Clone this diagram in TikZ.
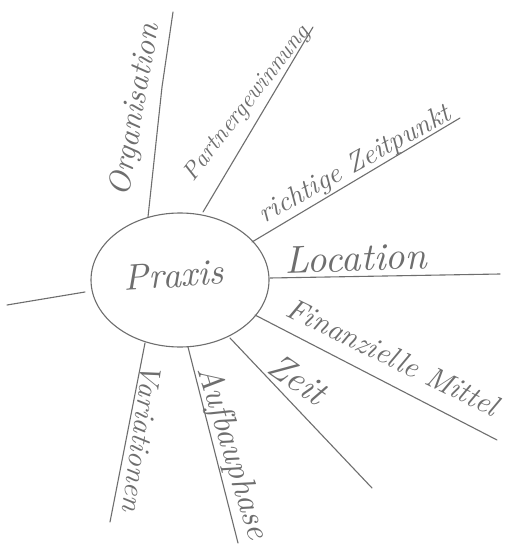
\documentclass[tikz,border=0pt]{standalone}
\usepackage{graphicx}
\usetikzlibrary{shapes.geometric}
\definecolor{pencil}{HTML}{6E6E6E}
\newcommand{\hw}[2]{\resizebox{#1pt}{!}{\itshape #2}}
\begin{document}
\begin{tikzpicture}[x=1pt,y=-1pt,
  pen/.style={draw=pencil,line width=1.1pt,line cap=round,line join=round},
  lbl/.style={text=pencil,inner sep=0pt,anchor=center}]
\useasboundingbox[fill=white] (0,0) rectangle (513,545);
% centre
\node[pen,ellipse,minimum width=178pt,minimum height=134pt,inner sep=0pt] (praxis) at (180,280) {};
\node[lbl,rotate=4] (tpraxis) at (174,275) {\hw{100}{Praxis}};
% coordinates
\coordinate (s1) at (148,217); \coordinate (k1) at (162,87); \coordinate (e1) at (173,12);
\coordinate (s2) at (203,212); \coordinate (e2) at (313,27);
\coordinate (s3) at (252,242); \coordinate (e3) at (460,118);
\coordinate (s4) at (270,278); \coordinate (e4) at (500,274);
\coordinate (s5) at (255,315); \coordinate (e5) at (497,440);
\coordinate (s6) at (230,338); \coordinate (e6) at (372,488);
\coordinate (s7) at (188,347); \coordinate (e7) at (238,543);
\coordinate (s8) at (145,343); \coordinate (e8) at (110,522);
\coordinate (s9) at (85,292);  \coordinate (e9) at (7,305);
% branches
\draw[pen] (s1) -- (k1) -- (e1);
\draw[pen] (s2) -- (e2);
\draw[pen] (s3) -- (e3);
\draw[pen] (s4) -- (e4);
\draw[pen] (s5) -- (e5);
\draw[pen] (s6) -- (e6);
\draw[pen] (s7) -- (e7);
\draw[pen] (s8) -- (e8);
\draw[pen] (s9) -- (e9);
% labels
\node[lbl,rotate=80] (t1) at (136,110) {\hw{175}{Organisation}};
\node[lbl,rotate=52] (t2) at (247,104) {\hw{190}{Partnergewinnung}};
\node[lbl,rotate=29] (t3) at (355,165) {\hw{215}{richtige Zeitpunkt}};
\node[lbl,rotate=2] (t4) at (356,258) {\hw{142}{Location}};
\node[lbl,rotate=-26] (t5) at (393,357) {\hw{232}{Finanzielle Mittel}};
\node[lbl,rotate=-35] (t6) at (298,379) {\hw{62}{Zeit}};
\node[lbl,rotate=-73] (t7) at (232,453) {\hw{180}{Aufbauphase}};
\node[lbl,rotate=-98] (t8) at (142,438) {\hw{150}{Variationen}};
\end{tikzpicture}
\end{document}
